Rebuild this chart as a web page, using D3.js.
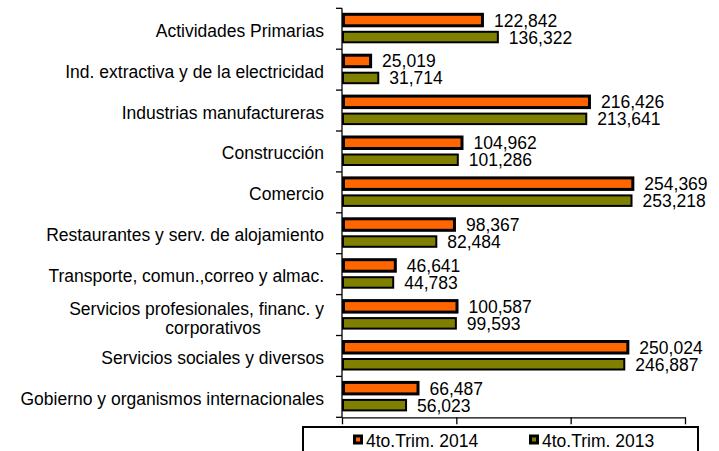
<!DOCTYPE html>
<html lang="es">
<head>
    <meta charset="UTF-8">
    <title>PIB por actividad</title>
    <style>
        body {
            margin: 0;
            background: #fff;
        }

        text {
            font-family: "Liberation Sans", Arial, sans-serif;
            fill: #000;
        }
    </style>
</head>

<body>
    <svg id="chart" width="719" height="451"></svg>
</body>

<script src="https://cdn.jsdelivr.net/npm/d3@7"></script>

<script>
    // data
    const categories = [
        "Actividades Primarias",
        "Ind. extractiva y de la electricidad",
        "Industrias manufactureras",
        "Construcción",
        "Comercio",
        "Restaurantes y serv. de alojamiento",
        "Transporte, comun.,correo y almac.",
        "Servicios profesionales, financ. y corporativos",
        "Servicios sociales y diversos",
        "Gobierno y organismos internacionales"
    ]
    const values2014 = [122842, 25019, 216426, 104962, 254369, 98367, 46641, 100587, 250024, 66487]
    const values2013 = [136322, 31714, 213641, 101286, 253218, 82484, 44783, 99593, 246887, 56023]
    const seriesNames = ["4to.Trim. 2014", "4to.Trim. 2013"]
    const xTicks = [0, 100000, 200000, 300000]

    const colors = ["#FF6600", "#808000"]
    const fontSize = 17.5

    let svg = d3.select("#chart")

    let plot = { left: 342, right: 685, top: 8.3, bottom: 417.3 }

    let xScale = d3.scaleLinear()
        .domain([0, 300000])
        .range([plot.left, plot.right])

    let yScale = d3.scaleBand()
        .domain(categories)
        .range([plot.top, plot.bottom])

    let band = yScale.bandwidth()
    let fmt = d3.format(",")

    // bar geometry inside each band: [offset, height, stroke width]
    let barSpec = [
        { off: 6, h: 11.5, sw: 3 },
        { off: 23.5, h: 10.5, sw: 2 }
    ]

    let rows = categories.map((c, i) => ({
        name: c,
        vals: [values2014[i], values2013[i]]
    }))

    drawBars()
    drawAxes()
    drawLegend()

    function drawBars() {
        let groups = svg.append("g").selectAll("g")
            .data(rows)
            .enter().append("g")
            .attr("transform", d => `translate(0,${yScale(d.name)})`)

        barSpec.forEach((s, k) => {
            groups.append("rect")
                .attr("x", xScale(0) + s.sw / 2)
                .attr("y", s.off)
                .attr("width", d => xScale(d.vals[k]) - xScale(0) - s.sw / 2)
                .attr("height", s.h)
                .attr("fill", colors[k])
                .attr("stroke", "#000")
                .attr("stroke-width", s.sw)

            groups.append("text")
                .attr("x", d => xScale(d.vals[k]) + s.sw / 2 + 10)
                .attr("y", s.off + s.h / 2 + 6.5)
                .style("font-size", fontSize + "px")
                .text(d => fmt(d.vals[k]))
        })
    }

    function drawAxes() {
        // x axis, no labels
        svg.append("g")
            .attr("transform", `translate(0,${plot.bottom})`)
            .call(d3.axisBottom(xScale).tickValues(xTicks).tickFormat("").tickSize(7).tickSizeOuter(0))
            .call(g => g.selectAll("path, line").attr("stroke", "#000").attr("stroke-width", 1.3))

        // y axis with ticks between categories
        let yAxis = svg.append("g")
        yAxis.append("line")
            .attr("x1", plot.left).attr("x2", plot.left)
            .attr("y1", plot.top).attr("y2", plot.bottom)
            .attr("stroke", "#000").attr("stroke-width", 1.3)

        let bounds = categories.map(c => yScale(c)).concat([plot.bottom])
        yAxis.selectAll(".tick")
            .data(bounds)
            .enter().append("line")
            .attr("x1", plot.left - 6).attr("x2", plot.left)
            .attr("y1", d => d).attr("y2", d => d)
            .attr("stroke", "#000").attr("stroke-width", 1.3)

        let labelRight = 324
        let maxWidth = 318
        categories.forEach(c => {
            let cy = yScale(c) + band / 2
            let t = yAxis.append("text")
                .attr("x", labelRight)
                .attr("y", cy + 8)
                .attr("text-anchor", "end")
                .style("font-size", fontSize + "px")
                .text(c)

            if (t.node().getComputedTextLength() > maxWidth) {
                // wrap to two lines like the original
                let words = c.split(" ")
                let first = words.slice(0, -1).join(" ")
                let last = words[words.length - 1]
                t.attr("y", cy).text(first)
                yAxis.append("text")
                    .attr("x", labelRight - 111)
                    .attr("y", cy + 18.5)
                    .attr("text-anchor", "middle")
                    .style("font-size", fontSize + "px")
                    .text(last)
            }
        })
    }

    function drawLegend() {
        let legend = svg.append("g")
        legend.append("rect")
            .attr("x", 303).attr("y", 427)
            .attr("width", 395).attr("height", 40)
            .attr("fill", "#fff")
            .attr("stroke", "#000")
            .attr("stroke-width", 2)

        let itemX = [353, 529]
        seriesNames.forEach((name, k) => {
            legend.append("rect")
                .attr("x", itemX[k] + 1.5).attr("y", 436)
                .attr("width", 7).attr("height", 7)
                .attr("fill", colors[k])
                .attr("stroke", "#000")
                .attr("stroke-width", 3)
            legend.append("text")
                .attr("x", itemX[k] + 13)
                .attr("y", 447)
                .style("font-size", fontSize + "px")
                .text(name)
        })
    }
</script>

</html>
